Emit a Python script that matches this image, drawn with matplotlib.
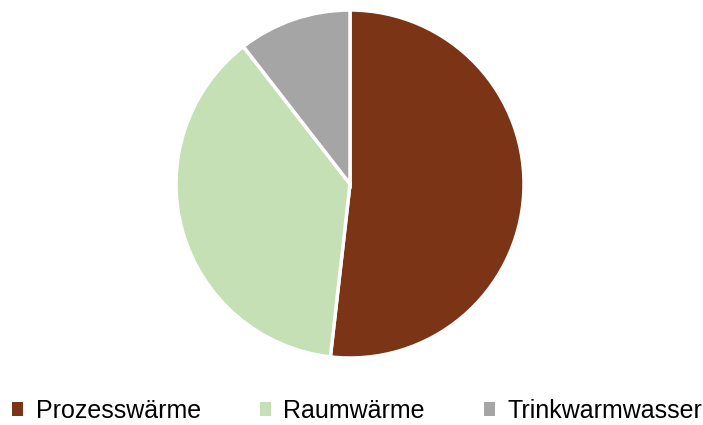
import matplotlib
matplotlib.use("Agg")
import matplotlib.pyplot as plt
from matplotlib.patches import Patch

labels = ["Prozesswärme", "Raumwärme", "Trinkwarmwasser"]
values = [51.8, 37.7, 10.5]
colors = ["#7B3516", "#C5E0B4", "#A5A5A5"]

plt.rcParams['font.family'] = ['Liberation Sans', 'DejaVu Sans']

fig = plt.figure(figsize=(7.03, 4.25), dpi=100)
ax = fig.add_axes([176 / 703, 67 / 425, 348 / 703, 348 / 425])
ax.pie(values, colors=colors, startangle=90, counterclock=False,
       wedgeprops=dict(edgecolor="white", linewidth=2.5))
ax.set_xlim(-1, 1)
ax.set_ylim(-1, 1)
ax.set_aspect("equal")

handles = [Patch(facecolor=c, edgecolor="none") for c in colors]
fig.legend(handles, labels, loc="center", bbox_to_anchor=(0.508, (425 - 411) / 425),
           ncol=3, frameon=False, fontsize=18, handlelength=0.45, handleheight=0.45,
           handletextpad=0.5, columnspacing=2.35)

fig.savefig("out.png", dpi=100)
